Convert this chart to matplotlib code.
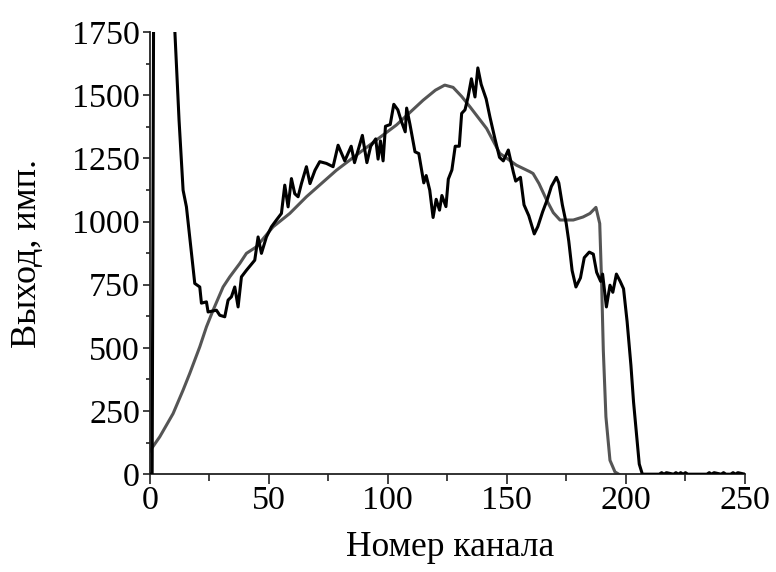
import matplotlib
matplotlib.use('Agg')
import matplotlib.pyplot as plt
from matplotlib.ticker import MultipleLocator

plt.rcParams['font.family'] = ['Liberation Serif', 'DejaVu Serif']

# measured spectrum (black)
exp_channel = [0, 1, 1.5, 2, 5, 8, 10.5, 12.3, 14, 15.4, 18.9, 21, 21.7, 23.8, 24.5, 28, 29.4,
               31.5, 32.9, 34.3, 35.7, 37.1, 38.5, 40.6, 44.1, 45.5, 46.9, 49, 51.1, 53.2,
               55.3, 56.7, 58.1, 59.5, 60.9, 62.3, 63.7, 65.8, 67.3, 69.4, 71.4, 74.2, 77,
               79.1, 81.9, 84.6, 86, 89.3, 91.2, 92.8, 94.9, 95.9, 96.9, 98, 99, 101, 102.5,
               104.2, 105.6, 107.3, 107.9, 109.3, 111.4, 113, 115.1, 116.1, 117.6, 119,
               120.3, 121.7, 122.7, 124.4, 125.4, 126.9, 128.3, 130, 131, 132.4, 133.7,
               135.1, 136.6, 137.8, 139.2, 141.3, 142.9, 145, 146.9, 148.5, 150.6, 152.7,
               153.7, 155.7, 157.2, 159.2, 161.5, 163, 165, 167, 168.7, 170.8, 171.8, 173.3,
               174.9, 176, 177.4, 179, 180.9, 182.5, 184.6, 186.3, 187.7, 189.4, 190.2,
               191.8, 193.3, 194.5, 196, 197.6, 199, 200.5, 202.1, 203.2, 204.6, 205.6,
               206.9, 214, 215, 216, 217, 220, 221, 222, 223, 224, 225, 226, 234, 235, 236,
               237, 240, 241, 242, 244, 245, 246, 247, 250]
exp_counts = [0, 0, 1500, 3000, 5000, 3500, 1760, 1401, 1124, 1058, 755, 741, 677, 682, 642,
              649, 629, 623, 689, 702, 741, 662, 781, 807, 847, 939, 874, 939, 979, 1006,
              1032, 1144, 1058, 1170, 1110, 1098, 1150, 1217, 1150, 1203, 1237, 1230, 1217,
              1302, 1240, 1298, 1233, 1341, 1233, 1298, 1327, 1247, 1319, 1240, 1377, 1384,
              1464, 1442, 1399, 1355, 1449, 1384, 1276, 1269, 1153, 1182, 1124, 1016, 1088,
              1045, 1103, 1059, 1168, 1204, 1298, 1298, 1428, 1442, 1493, 1565, 1493, 1608,
              1543, 1485, 1413, 1327, 1254, 1240, 1283, 1196, 1160, 1175, 1066, 1023, 951,
              980, 1038, 1088, 1139, 1175, 1153, 1066, 994, 922, 806, 741, 777, 857, 879,
              871, 799, 763, 792, 662, 748, 720, 792, 763, 734, 604, 431, 286, 142, 40,
              0, 0, 6, 0, 6, 0, 6, 0, 6, 0, 6, 0,
              0, 6, 0, 6, 0, 6, 0, 0, 6, 0, 6, 0]

# calculated spectrum (grey)
calc_channel = [0, 4.2, 9.8, 14, 16.8, 21, 23.8, 26.6, 30.8, 33.6, 37.8, 40.6, 44.8, 51.8,
                58.8, 65.8, 78.4, 89.6, 103.6, 114.8, 120, 123.9, 127.4, 131, 134.5, 141.5,
                147, 154, 159.7, 161, 163.5, 166.7, 169.5, 172.3, 177.9, 182, 184.9, 187.4,
                189, 189.8, 190.5, 191.6, 193.3, 195.4, 197]
calc_counts = [91, 148, 240, 333, 399, 504, 583, 649, 741, 781, 834, 874, 900, 979, 1032,
               1098, 1203, 1283, 1382, 1480, 1520, 1540, 1531, 1495, 1454, 1368, 1270, 1223,
               1197, 1190, 1150, 1085, 1035, 1006, 1006, 1018, 1032, 1056, 992, 755, 491,
               227, 55, 9, 0]

fig = plt.figure(figsize=(7.76, 5.72), dpi=100)
ax = fig.add_axes([0.193, 0.171, 0.767, 0.773])

ax.plot(calc_channel, calc_counts, color='#555555', lw=2.2, zorder=2)
ax.plot(exp_channel, exp_counts, color='black', lw=2.2, zorder=3)

ax.set_xlim(0, 250)
ax.set_ylim(0, 1750)
ax.xaxis.set_major_locator(MultipleLocator(50))
ax.xaxis.set_minor_locator(MultipleLocator(25))
ax.yaxis.set_major_locator(MultipleLocator(250))
ax.yaxis.set_minor_locator(MultipleLocator(125))

for side in ['top', 'right']:
    ax.spines[side].set_visible(False)
for side in ['left', 'bottom']:
    ax.spines[side].set_linewidth(1.3)
    ax.spines[side].set_color('#222222')

ax.tick_params(axis='both', which='both', direction='out', labelsize=24.5, color='#222222', width=1.2)
ax.tick_params(axis='x', which='major', length=7, pad=1)
ax.tick_params(axis='x', which='minor', length=5)
ax.tick_params(axis='y', which='major', length=5, pad=2)
ax.tick_params(axis='y', which='minor', length=3)

ax.set_xlabel('Номер канала', fontsize=25.5)
ax.set_ylabel('Выход, имп.', fontsize=26)
ax.xaxis.set_label_coords(0.505, -0.128)
ax.yaxis.set_label_coords(-0.178, 0.5)

fig.savefig('out.png', dpi=100)
